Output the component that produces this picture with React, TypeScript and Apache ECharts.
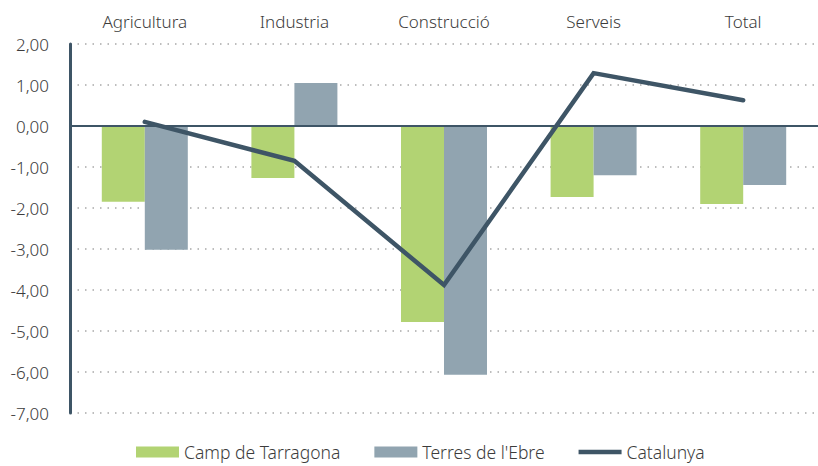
import React, { useEffect, useRef } from "react";
import * as echarts from "echarts";

const categories = ["Agricultura", "Industria", "Construcció", "Serveis", "Total"];
const campTarragona = [-1.85, -1.27, -4.78, -1.73, -1.9];
const terresEbre = [-3.02, 1.05, -6.07, -1.2, -1.44];
const catalunya = [0.1, -0.85, -3.88, 1.29, 0.63];

const FONT = "'Noto Sans', 'Open Sans', sans-serif";
const TEXT = "#3c3c3c";
const DARK = "#3e5566";
const FS = 17;

export default function App() {
  const ref = useRef<HTMLDivElement>(null);
  useEffect(() => {
    if (!ref.current) return;
    const chart = echarts.init(ref.current, null, { renderer: "svg" });
    chart.setOption({
      animation: false,
      textStyle: { fontFamily: FONT },
      grid: { left: 70, right: -6, top: 44, bottom: 53, containLabel: false },
      legend: {
        bottom: 0,
        left: 131,
        itemWidth: 43,
        itemHeight: 11,
        itemGap: 34,
        textStyle: { fontFamily: FONT, fontSize: 17.5, fontWeight: 300, color: TEXT },
        data: [
          { name: "Camp de Tarragona", icon: "rect" },
          { name: "Terres de l'Ebre", icon: "rect" },
          { name: "Catalunya", icon: "path://M0,0H43V4.5H0Z" },
        ],
      },
      xAxis: {
        type: "category",
        data: categories,
        position: "top",
        axisLine: { show: false },
        axisTick: { show: false },
        axisLabel: { fontFamily: FONT, fontSize: FS, fontWeight: 300, color: TEXT, margin: 14 },
      },
      yAxis: {
        type: "value",
        min: -7,
        max: 2,
        interval: 1,
        axisLine: { show: true, lineStyle: { color: DARK, width: 3 } },
        axisTick: { show: false },
        axisLabel: {
          fontFamily: FONT,
          fontSize: FS,
          fontWeight: 300,
          color: TEXT,
          margin: 21,
          formatter: (v: number) => v.toFixed(2).replace(".", ","),
        },
        splitLine: { show: true, lineStyle: { color: "#a8a8a8", type: [1.5, 6], width: 1.5 } },
      },
      series: [
        {
          name: "Camp de Tarragona",
          type: "bar",
          data: campTarragona,
          barWidth: 43,
          barGap: "0%",
          itemStyle: { color: "#b2d373" },
          markLine: {
            silent: true,
            symbol: "none",
            label: { show: false },
            lineStyle: { color: DARK, width: 2, type: "solid" },
            data: [{ yAxis: 0 }],
          },
        },
        {
          name: "Terres de l'Ebre",
          type: "bar",
          data: terresEbre,
          barWidth: 43,
          barGap: "0%",
          itemStyle: { color: "#91a4b0" },
        },
        {
          name: "Catalunya",
          type: "line",
          data: catalunya,
          symbol: "none",
          lineStyle: { color: DARK, width: 4.5, cap: "round", join: "miter" },
          itemStyle: { color: DARK },
          z: 5,
        },
      ],
    });
    return () => chart.dispose();
  }, []);
  return <div ref={ref} style={{ width: 818, height: 466, position: "absolute", left: 0, top: 0 }} />;
}
